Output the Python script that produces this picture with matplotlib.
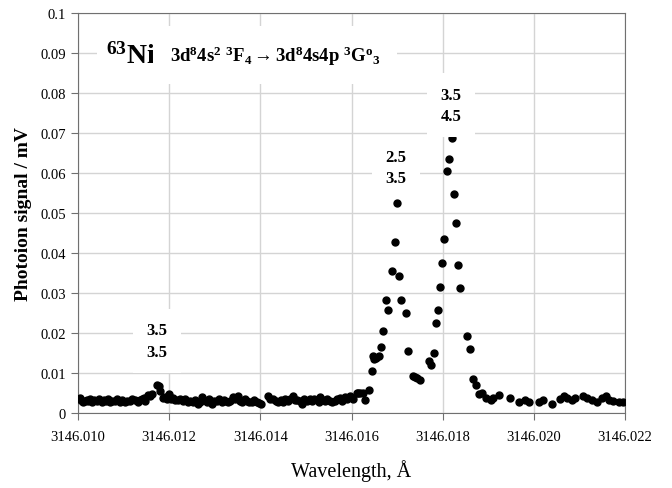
import numpy as np
import matplotlib
matplotlib.use("Agg")
import matplotlib.pyplot as plt

plt.rcParams['font.family'] = ['Liberation Serif', 'DejaVu Serif']
plt.rcParams['mathtext.fontset'] = 'custom'
plt.rcParams['mathtext.rm'] = 'Liberation Serif'
plt.rcParams['mathtext.bf'] = 'Liberation Serif:bold'
plt.rcParams['mathtext.it'] = 'Liberation Serif:italic'

# measured points: baseline before the lines
base_x = [3146.01002, 3146.01004, 3146.01008, 3146.01011, 3146.01015, 3146.01019, 3146.01022,
          3146.01026, 3146.01031, 3146.01036, 3146.01042, 3146.01046, 3146.01053, 3146.01057,
          3146.01061, 3146.01066, 3146.01070, 3146.01075, 3146.01081, 3146.01086, 3146.01092,
          3146.01097, 3146.01103, 3146.01108, 3146.01114, 3146.01119, 3146.01125, 3146.01132,
          3146.01136, 3146.01140, 3146.01145, 3146.01147, 3146.01154, 3146.01158, 3146.01162,
          3146.01173, 3146.01178, 3146.01180, 3146.01186, 3146.01191, 3146.01196, 3146.01200,
          3146.01204, 3146.01208, 3146.01213, 3146.01219, 3146.01224, 3146.01230, 3146.01235,
          3146.01241, 3146.01246, 3146.01252, 3146.01257, 3146.01263, 3146.01268, 3146.01272,
          3146.01277, 3146.01283, 3146.01288, 3146.01294, 3146.01299, 3146.01305, 3146.01310,
          3146.01316, 3146.01320, 3146.01323, 3146.01328, 3146.01334, 3146.01340, 3146.01345,
          3146.01351, 3146.01356, 3146.01360, 3146.01366, 3146.01371, 3146.01376, 3146.01382,
          3146.01387, 3146.01393, 3146.01398, 3146.01402, 3146.01417, 3146.01422, 3146.01428,
          3146.01434, 3146.01439, 3146.01445, 3146.01450, 3146.01455, 3146.01461, 3146.01466,
          3146.01472, 3146.01476, 3146.01480, 3146.01486, 3146.01491, 3146.01496, 3146.01502,
          3146.01508, 3146.01513, 3146.01518, 3146.01524, 3146.01528, 3146.01531, 3146.01537,
          3146.01542, 3146.01547, 3146.01553, 3146.01558, 3146.01564, 3146.01569, 3146.01575,
          3146.01580, 3146.01586, 3146.01591, 3146.01597, 3146.01603, 3146.01612, 3146.01614,
          3146.01619, 3146.01625, 3146.01630, 3146.01638]
base_y = [0.0035, 0.0037, 0.0030, 0.00275, 0.0030, 0.0032, 0.0030,
          0.0034, 0.00275, 0.0033, 0.0030, 0.0035, 0.00275, 0.0033,
          0.0030, 0.0034, 0.00275, 0.0031, 0.0030, 0.0035, 0.00275,
          0.0032, 0.00275, 0.0031, 0.0030, 0.0034, 0.00325, 0.00275,
          0.0033, 0.0035, 0.0038, 0.0030, 0.0045, 0.0042, 0.0047,
          0.0070, 0.00675, 0.0055, 0.0037, 0.0040, 0.0034, 0.0047,
          0.0036, 0.00375, 0.0032, 0.00325, 0.0036, 0.0030, 0.0034,
          0.00275, 0.0031, 0.00275, 0.0033, 0.00225, 0.0028, 0.0040,
          0.0032, 0.00275, 0.0034, 0.00225, 0.0031, 0.0030, 0.0036,
          0.00275, 0.0033, 0.0030, 0.0027, 0.0030, 0.0040, 0.0034,
          0.00425, 0.0030, 0.00275, 0.0034, 0.0030, 0.0027, 0.00275,
          0.0032, 0.00275, 0.0026, 0.00225, 0.00425, 0.0035, 0.0035,
          0.0030, 0.00275, 0.0033, 0.00275, 0.0036, 0.0030, 0.0034,
          0.00425, 0.0033, 0.00325, 0.0030, 0.00225, 0.0034, 0.0030,
          0.0036, 0.0030, 0.0034, 0.00325, 0.0028, 0.0040, 0.0032,
          0.0030, 0.0035, 0.0030, 0.0027, 0.0030, 0.0034, 0.00375,
          0.0030, 0.0040, 0.0035, 0.00425, 0.0035, 0.0050, 0.0050,
          0.0050, 0.0050, 0.00325, 0.00575]

# the two hyperfine lines
peak_x = [3146.01645, 3146.01647, 3146.01650, 3146.01654, 3146.01660, 3146.01665, 3146.01669,
          3146.01676, 3146.01680, 3146.01689, 3146.01696, 3146.01700, 3146.01704, 3146.01709,
          3146.01720, 3146.01724, 3146.01735, 3146.01740, 3146.01744, 3146.01750, 3146.01770,
          3146.01774, 3146.01781, 3146.01785, 3146.01790, 3146.01794, 3146.01799, 3146.01803,
          3146.01810, 3146.01814, 3146.01821, 3146.01825, 3146.01829, 3146.01834, 3146.01838,
          3146.01853, 3146.01860, 3146.01867, 3146.01873]
peak_y = [0.0105, 0.01425, 0.0135, 0.01375, 0.01425, 0.0165, 0.0205,
          0.02825, 0.02575, 0.0355, 0.04275, 0.0525, 0.03425, 0.02825,
          0.025, 0.0155, 0.00925, 0.0090, 0.00875, 0.00825, 0.013,
          0.012, 0.015, 0.0225, 0.02575, 0.0315, 0.0375, 0.0435,
          0.0605, 0.0635, 0.06875, 0.05475, 0.0475, 0.037, 0.03125,
          0.01925, 0.016, 0.0085, 0.007]

# tail after the lines
tail_x = [3146.01880, 3146.01886, 3146.01895, 3146.01906, 3146.01911, 3146.01924, 3146.01948,
          3146.01968, 3146.01981, 3146.01989, 3146.02011, 3146.02020, 3146.02040, 3146.02058,
          3146.02066, 3146.02073, 3146.02084, 3146.02090, 3146.02108, 3146.02117, 3146.02128,
          3146.02139, 3146.02150, 3146.02158, 3146.02165, 3146.02174, 3146.02187, 3146.02196]
tail_y = [0.00475, 0.005, 0.00375, 0.00325, 0.00375, 0.0045, 0.00375,
          0.00275, 0.00325, 0.00275, 0.00275, 0.00325, 0.00225, 0.0035,
          0.00425, 0.00375, 0.00325, 0.00375, 0.00425, 0.00375, 0.00325,
          0.00275, 0.00375, 0.00425, 0.00325, 0.0030, 0.00275, 0.00275]

x_ticks = [3146.010, 3146.012, 3146.014, 3146.016, 3146.018, 3146.020, 3146.022]
x_tick_labels = ['3146.010', '3146.012', '3146.014', '3146.016', '3146.018', '3146.020', '3146.022']
y_ticks = [0, 0.01, 0.02, 0.03, 0.04, 0.05, 0.06, 0.07, 0.08, 0.09, 0.1]
y_tick_labels = ['0', '0.01', '0.02', '0.03', '0.04', '0.05', '0.06', '0.07', '0.08', '0.09', '0.1']

# F / F' labels for each line
line_labels = ['3.5\n3.5', '2.5\n3.5', '3.5\n4.5']
label_x = [3146.01173, 3146.01698, 3146.01818]
label_y = [0.0180, 0.0614, 0.0769]

x = np.array(base_x + peak_x + tail_x)
y = np.array(base_y + peak_y + tail_y)

fig = plt.figure(figsize=(6.72, 4.89), dpi=100)
ax = fig.add_axes([0.1161, 0.1534, 0.814, 0.818])

ax.plot(x, y, 'o', color='black', ms=5, zorder=3)

ax.set_xlim(3146.010, 3146.022)
ax.set_ylim(0, 0.1)
ax.set_xticks(x_ticks)
ax.set_xticklabels(x_tick_labels, fontsize=10.5)
ax.set_yticks(y_ticks)
ax.set_yticklabels(y_tick_labels, fontsize=10.5)
ax.grid(True, color='#d4d4d4', lw=1)
ax.set_axisbelow(True)
for s in ax.spines.values():
    s.set_color('#707070')
ax.tick_params(color='#707070', length=5, direction='out')
ax.tick_params(axis='x', pad=7)

ax.set_xlabel('Wavelength, Å', fontsize=14.5, labelpad=12)
ax.set_ylabel('Photoion signal / mV', fontsize=14, fontweight='bold', labelpad=6)

ax.text(3146.01061, 0.0895, r'$\mathbf{^{63}Ni}$', fontsize=20, va='center', ha='left',
        bbox=dict(facecolor='white', edgecolor='none', boxstyle='square,pad=0.3'), zorder=4)
ax.text(3146.01202, 0.0895,
        r'$\mathbf{3d^8 4s^2\ {}^3F_4 \rightarrow 3d^8 4s4p\ {}^3G^o{}_3}$',
        fontsize=13.5, va='center', ha='left',
        bbox=dict(facecolor='white', edgecolor='none', boxstyle='square,pad=0.9'), zorder=4)

for lab, lx, ly in zip(line_labels, label_x, label_y):
    ax.text(lx, ly, lab, fontsize=12, fontweight='bold', ha='center', va='center',
            linespacing=1.45,
            bbox=dict(facecolor='white', edgecolor='none', boxstyle='square,pad=0.8'), zorder=4)

fig.savefig('out.png', dpi=100)
